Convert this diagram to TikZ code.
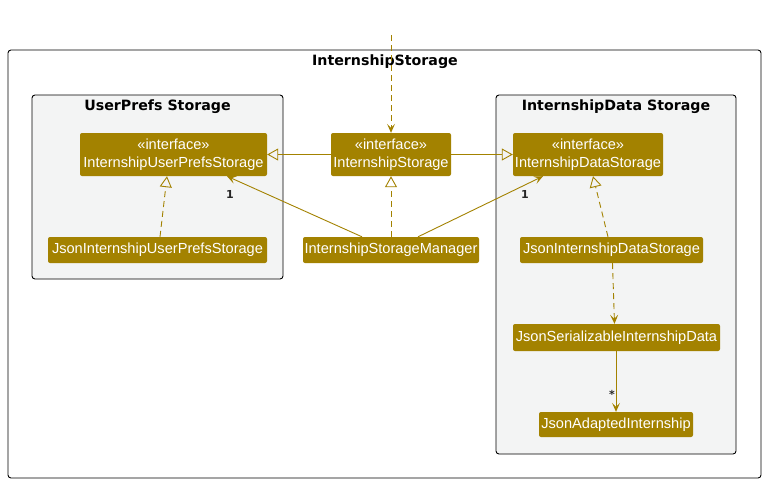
\documentclass[tikz,border=0pt]{standalone}
\usepackage{fontspec}
\setmainfont{Liberation Sans}
\newfontfamily\titlefont{DejaVu Sans}
\usetikzlibrary{arrows.meta}
\definecolor{gold}{HTML}{A38200}
\definecolor{pkgfill}{HTML}{F3F4F4}
\begin{document}
\begin{tikzpicture}[x=1pt,y=-1pt,
  cls/.style={fill=gold, rounded corners=2pt, text=white, inner sep=0pt, align=center,
    font=\fontsize{14.6}{18}\selectfont},
  frame/.style={draw=black, line width=0.9pt, rounded corners=3pt},
  ftitle/.style={font=\titlefont\bfseries\fontsize{14.2}{16}\selectfont, inner sep=0pt},
  mult/.style={font=\titlefont\bfseries\fontsize{11}{12}\selectfont, inner sep=0pt, text=black!85},
  conn/.style={draw=gold, line width=0.9pt},
  dep/.style={conn, dash pattern=on 6pt off 4pt, -{Stealth[length=9pt,width=8pt,inset=4pt]}},
  gen/.style={conn, -{Triangle[open,length=11pt,width=12pt]}},
  real/.style={conn, dash pattern=on 6pt off 4pt, -{Triangle[open,length=11pt,width=12pt]}},
  assoc/.style={conn, -{Stealth[length=9pt,width=8pt,inset=4pt]}}
]
\useasboundingbox (0,0) rectangle (765,483);
\fill[white] (0,0) rectangle (765,483);

% frames
\draw[frame, fill=white] (8,50) rectangle (761,478);
\node[ftitle] (t0) at (385,62) {InternshipStorage};
\draw[frame, fill=pkgfill] (32,95) rectangle (283,279);
\node[ftitle] (t1) at (157.5,107) {UserPrefs Storage};
\draw[frame, fill=pkgfill] (496,95) rectangle (736,454);
\node[ftitle] (t2) at (616,107) {InternshipData Storage};

% classes
\node[cls, minimum width=187, minimum height=43] (iups) at (173.5,154.5) {«interface»\\InternshipUserPrefsStorage};
\node[cls, minimum width=120, minimum height=43] (is) at (391,154.5) {«interface»\\InternshipStorage};
\node[cls, minimum width=150, minimum height=43] (ids) at (588,154.5) {«interface»\\InternshipDataStorage};
\node[cls, minimum width=219, minimum height=26] (jups) at (157.5,250) {JsonInternshipUserPrefsStorage};
\node[cls, minimum width=176, minimum height=26] (ism) at (391,250) {InternshipStorageManager};
\node[cls, minimum width=183, minimum height=26] (jids) at (611.5,250) {JsonInternshipDataStorage};
\node[cls, minimum width=207, minimum height=27] (jsid) at (616.5,337.5) {JsonSerializableInternshipData};
\node[cls, minimum width=154, minimum height=25] (jai) at (616,424.5) {JsonAdaptedInternship};

% connectors
\coordinate (ext) at (391,35);
\draw[dep] (ext) -- (is.north);
\draw[gen] (is.west) -- (iups.east);
\draw[gen] (is.east) -- (ids.west);
\draw[real] (ism.north) -- (is.south);
\draw[real] ([xshift=2.5pt]jups.north) -- ([xshift=-6.5pt]iups.south);
\draw[assoc] ([xshift=-29pt]ism.north) -- ([xshift=53.5pt]iups.south);
\draw[assoc] ([xshift=27pt]ism.north) -- ([xshift=-45pt]ids.south);
\draw[real] ([xshift=-3.5pt]jids.north) -- ([xshift=5pt]ids.south);
\draw[dep] ([xshift=1pt]jids.south) -- ([xshift=-2pt]jsid.north);
\draw[assoc] ([xshift=-0.5pt]jsid.south) -- (jai.north);

% multiplicities
\node[mult] (m1) at (230,194) {1};
\node[mult] (m2) at (525,194) {1};
\node[mult] (m3) at (612,394) {*};
\end{tikzpicture}
\end{document}
